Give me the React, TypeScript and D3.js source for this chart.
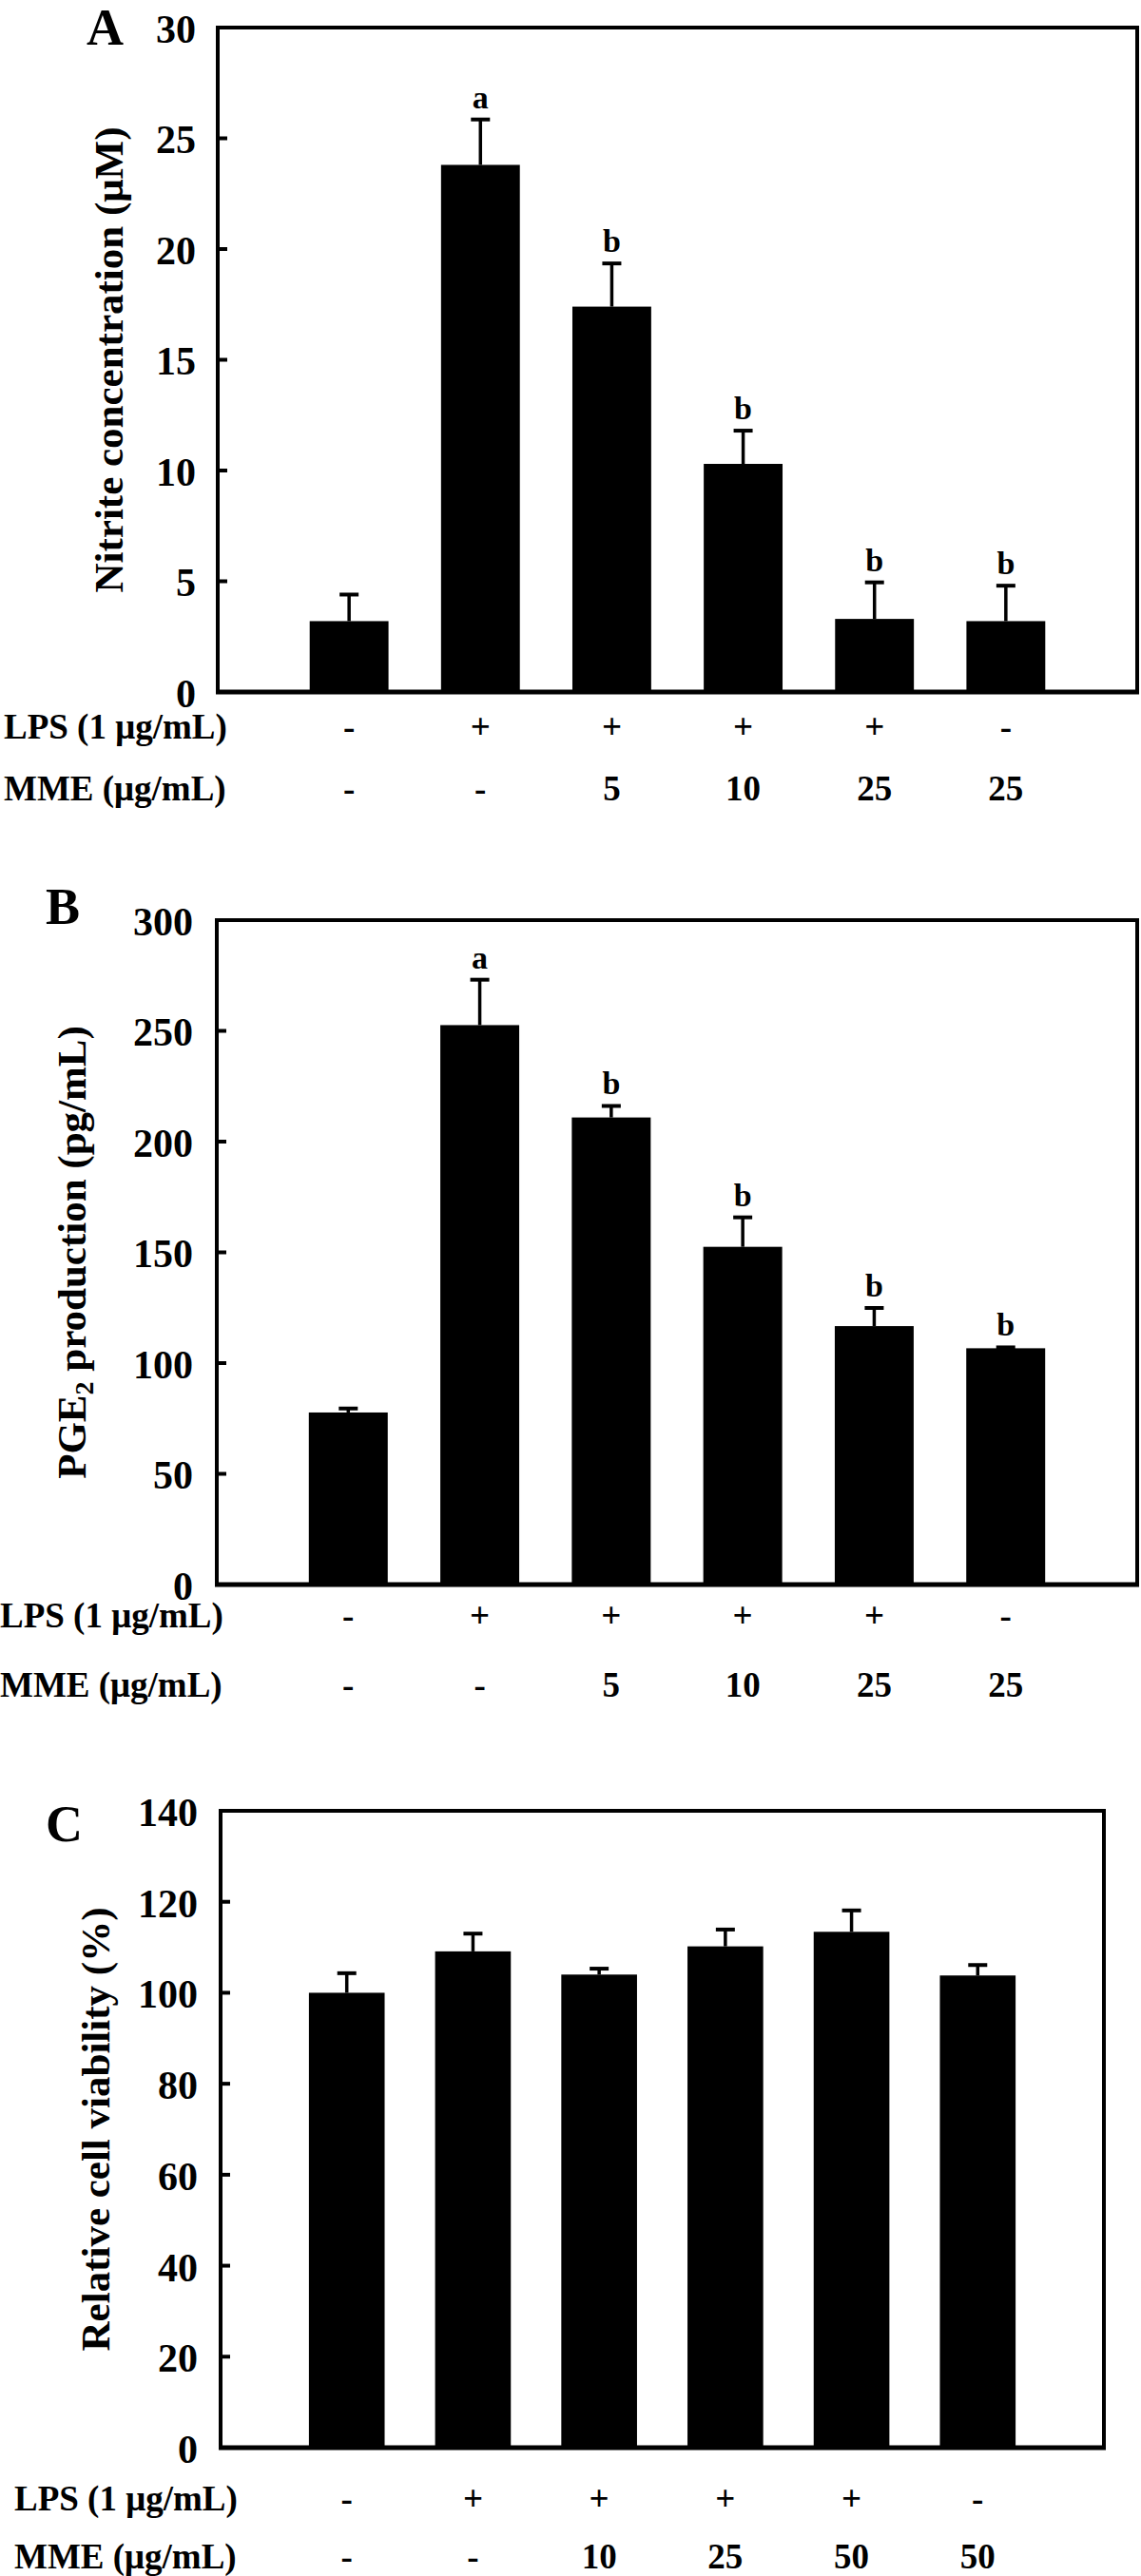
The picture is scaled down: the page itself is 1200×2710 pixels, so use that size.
import React from "react";
import * as d3 from "d3";

// ---------- data ----------
const groups = ["g1", "g2", "g3", "g4", "g5", "g6"];

const nitriteMeans = [3.2, 23.8, 17.4, 10.3, 3.3, 3.2];
const nitriteErrors = [1.2, 2.05, 1.95, 1.5, 1.65, 1.6];
const nitriteLetters = ["", "a", "b", "b", "b", "b"];
const nitriteTicks = [0, 5, 10, 15, 20, 25, 30];

const pgeMeans = [77.7, 252.6, 210.9, 152.5, 116.7, 106.7];
const pgeErrors = [1.8, 20.5, 5.2, 13.3, 8.2, 0.4];
const pgeLetters = ["", "a", "b", "b", "b", "b"];
const pgeTicks = [0, 50, 100, 150, 200, 250, 300];

const viabilityMeans = [100, 109.1, 104.0, 110.2, 113.4, 103.8];
const viabilityErrors = [4.3, 3.9, 1.3, 3.7, 4.7, 2.3];
const viabilityLetters = ["", "", "", "", "", ""];
const viabilityTicks = [0, 20, 40, 60, 80, 100, 120, 140];

const lpsRowAB = ["-", "+", "+", "+", "+", "-"];
const mmeRowAB = ["-", "-", "5", "10", "25", "25"];
const lpsRowC = ["-", "+", "+", "+", "+", "-"];
const mmeRowC = ["-", "-", "10", "25", "50", "50"];

const lpsLabel = "LPS (1 μg/mL)";
const mmeLabel = "MME (μg/mL)";

// ---------- layout ----------
const FONT = "'Liberation Serif', 'Times New Roman', Times, serif";

type Layout = {
  letter: string;
  letterX: number;
  letterY: number;
  left: number;
  right: number;
  top: number;
  bottom: number;
  titleX: number;
  tickRight: number;
  lpsY: number;
  mmeY: number;
  rowLabelX: number;
};

const layoutA: Layout = {
  letter: "A", letterX: 91, letterY: 47,
  left: 229, right: 1196, top: 29, bottom: 728,
  titleX: 129, tickRight: 206, lpsY: 777, mmeY: 842, rowLabelX: 4,
};
const layoutB: Layout = {
  letter: "B", letterX: 48, letterY: 972,
  left: 228, right: 1196, top: 968, bottom: 1667,
  titleX: 90, tickRight: 203, lpsY: 1712, mmeY: 1785, rowLabelX: 0,
};
const layoutC: Layout = {
  letter: "C", letterX: 48, letterY: 1937,
  left: 232, right: 1161, top: 1905, bottom: 2575,
  titleX: 115, tickRight: 208, lpsY: 2641, mmeY: 2702, rowLabelX: 15,
};

type PanelProps = {
  L: Layout;
  means: number[];
  errors: number[];
  letters: string[];
  ticks: number[];
  title: React.ReactNode;
  lps: string[];
  mme: string[];
};

function Panel({ L, means, errors, letters, ticks, title, lps, mme }: PanelProps) {
  const x = d3.scalePoint<string>().domain(groups).range([L.left, L.right]).padding(1);
  const y = d3
    .scaleLinear()
    .domain([0, ticks[ticks.length - 1]])
    .range([L.bottom, L.top]);
  const barW = x.step() * 0.6;
  const capHalf = 10;
  const midY = (L.top + L.bottom) / 2;

  return (
    <g>
      {/* panel letter */}
      <text x={L.letterX} y={L.letterY} fontSize={54} fontWeight="bold" fontFamily={FONT}>
        {L.letter}
      </text>

      {/* bars */}
      {groups.map((g, i) => {
        const cx = x(g) as number;
        const top = y(means[i]);
        const errTop = y(means[i] + errors[i]);
        return (
          <g key={g}>
            <line x1={cx} x2={cx} y1={top} y2={errTop} stroke="#000" strokeWidth={3.5} />
            <line x1={cx - capHalf} x2={cx + capHalf} y1={errTop} y2={errTop} stroke="#000" strokeWidth={4} />
            <rect x={cx - barW / 2} y={top} width={barW} height={L.bottom - top} fill="#000" />
            {letters[i] ? (
              <text
                x={cx}
                y={errTop - 12}
                textAnchor="middle"
                fontSize={34}
                fontWeight="bold"
                fontFamily={FONT}
              >
                {letters[i]}
              </text>
            ) : null}
          </g>
        );
      })}

      {/* frame */}
      <line x1={L.left} x2={L.right} y1={L.top} y2={L.top} stroke="#000" strokeWidth={4} />
      <line x1={L.left} x2={L.left} y1={L.top - 2} y2={L.bottom + 2} stroke="#000" strokeWidth={4} />
      <line x1={L.right} x2={L.right} y1={L.top - 2} y2={L.bottom + 2} stroke="#000" strokeWidth={4} />
      <line x1={L.left - 2} x2={L.right + 2} y1={L.bottom} y2={L.bottom} stroke="#000" strokeWidth={5} />

      {/* y ticks */}
      {ticks.map((t) => (
        <g key={t}>
          {t !== 0 && t !== ticks[ticks.length - 1] ? (
            <line x1={L.left} x2={L.left + 10} y1={y(t)} y2={y(t)} stroke="#000" strokeWidth={4} />
          ) : null}
          <text
            x={L.tickRight}
            y={y(t)}
            dy="0.38em"
            textAnchor="end"
            fontSize={42}
            fontWeight="bold"
            fontFamily={FONT}
          >
            {t}
          </text>
        </g>
      ))}

      {/* y title */}
      <text
        transform={`translate(${L.titleX},${midY}) rotate(-90)`}
        textAnchor="middle"
        fontSize={43}
        fontWeight="bold"
        fontFamily={FONT}
      >
        {title}
      </text>

      {/* treatment rows */}
      <text x={L.rowLabelX} y={L.lpsY} fontSize={37} fontWeight="bold" fontFamily={FONT}>
        {lpsLabel}
      </text>
      <text x={L.rowLabelX} y={L.mmeY} fontSize={37} fontWeight="bold" fontFamily={FONT}>
        {mmeLabel}
      </text>
      {groups.map((g, i) => (
        <g key={"r" + g}>
          <text x={x(g) as number} y={L.lpsY} textAnchor="middle" fontSize={37} fontWeight="bold" fontFamily={FONT}>
            {lps[i]}
          </text>
          <text x={x(g) as number} y={L.mmeY} textAnchor="middle" fontSize={37} fontWeight="bold" fontFamily={FONT}>
            {mme[i]}
          </text>
        </g>
      ))}
    </g>
  );
}

export default function App() {
  return (
    <svg
      width={1200}
      height={2710}
      viewBox="0 0 1200 2710"
      style={{ position: "absolute", left: 0, top: 0, background: "#fff", display: "block" }}
    >
      <rect x={0} y={0} width={1200} height={2710} fill="#fff" />
      <Panel
        L={layoutA}
        means={nitriteMeans}
        errors={nitriteErrors}
        letters={nitriteLetters}
        ticks={nitriteTicks}
        title={"Nitrite concentration (μM)"}
        lps={lpsRowAB}
        mme={mmeRowAB}
      />
      <Panel
        L={layoutB}
        means={pgeMeans}
        errors={pgeErrors}
        letters={pgeLetters}
        ticks={pgeTicks}
        title={
          <>
            PGE<tspan fontSize={28} dy="0.3em">2</tspan>
            <tspan dy="-0.19em"> production (pg/mL)</tspan>
          </>
        }
        lps={lpsRowAB}
        mme={mmeRowAB}
      />
      <Panel
        L={layoutC}
        means={viabilityMeans}
        errors={viabilityErrors}
        letters={viabilityLetters}
        ticks={viabilityTicks}
        title={"Relative cell viability (%)"}
        lps={lpsRowC}
        mme={mmeRowC}
      />
    </svg>
  );
}
